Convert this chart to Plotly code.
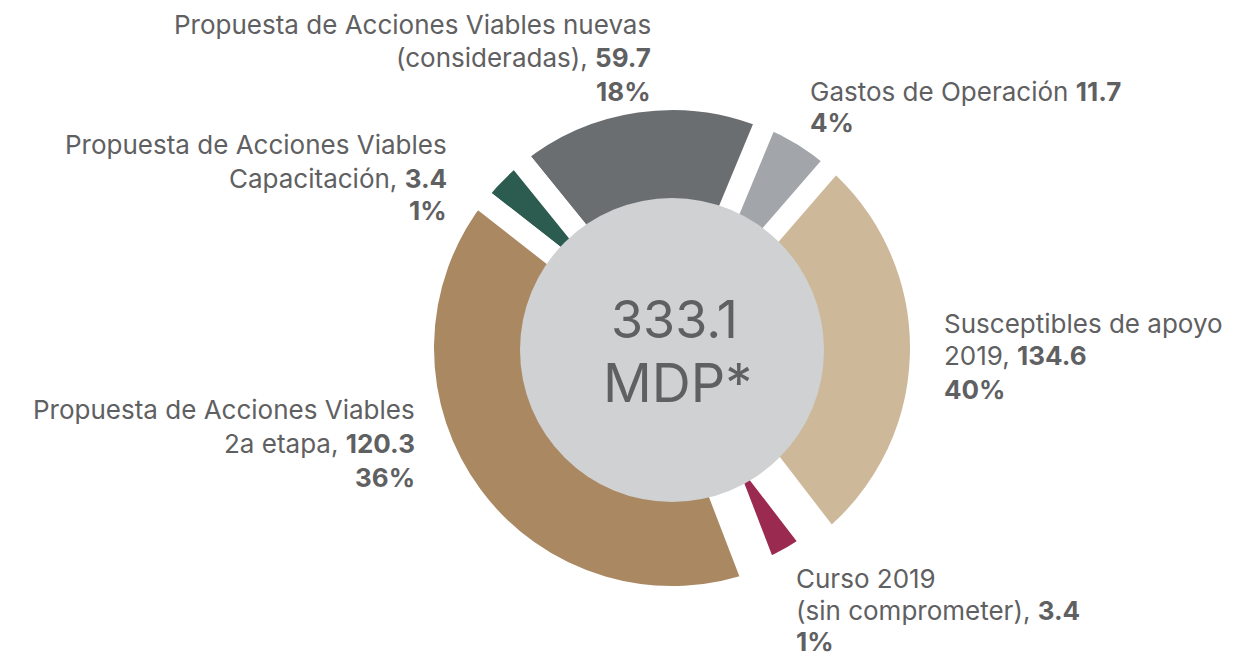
import plotly.graph_objects as go

# slices, counter-clockwise starting at the right-hand (beige) one
names = ["Susceptibles de apoyo 2019", "Gastos de Operación",
         "Propuesta de Acciones Viables nuevas (consideradas)", "Propuesta de Acciones Viables Capacitación",
         "Propuesta de Acciones Viables 2a etapa", "Curso 2019 (sin comprometer)"]
amounts = [134.6, 11.7, 59.7, 3.4, 120.3, 3.4]
percents = [40, 4, 18, 1, 36, 1]
# share of the circle each slice takes as drawn in the picture (%)
drawn_share = [28.2, 5.1, 17.1, 3.6, 41.4, 4.6]
total = "333.1"

colors = {
    'beige': '#cdb99a', 'red': '#9b2a50', 'brown': '#a98862', 'green': '#2c5c4f',
    'dgray': '#6b6e70', 'lgray': '#a2a5a9', 'center': '#d0d1d3', 'text': '#5f6062'
}
slice_colors = [colors['beige'], colors['lgray'], colors['dgray'], colors['green'], colors['brown'], colors['red']]
gap_widths = [22, 20, 22, 22, 22, 38]

# page body has an 8px margin, so the figure is a bit smaller and positions are shifted
OFF = 8
W, H = 1249, 648
cx, cy, R = 672, 348, 249   # pie centre / radius in page px

def px(x):
    return (x - OFF) / W

def py(y):
    return (H - (y - OFF)) / H

fig = go.Figure()
# counterclockwise: first slice covers [rotation, rotation + share] clockwise from 12 o'clock
fig.add_trace(go.Pie(
    labels=names, values=drawn_share, sort=False, direction='counterclockwise', rotation=40.9,
    hole=0.5, textinfo='none', hoverinfo='label',
    marker=dict(colors=slice_colors, line=dict(color='white', width=gap_widths)),
    domain=dict(x=[px(cx - R), px(cx + R)], y=[py(cy + R), py(cy - R)]),
    showlegend=False,
))

# grey centre disc
fig.add_shape(type='circle', xref='paper', yref='paper', xsizemode='pixel', ysizemode='pixel',
              xanchor=px(672), yanchor=py(350), x0=-152, x1=152, y0=-152, y1=152,
              fillcolor=colors['center'], line=dict(width=0), layer='above')

font_family = "Inter"

def line(text, x, y, anchor, size=26):
    fig.add_annotation(x=px(x), y=py(y), xref='paper', yref='paper', text=text,
                       showarrow=False, xanchor=anchor, yanchor='middle',
                       font=dict(family=font_family, size=size, color=colors['text']))

b = lambda s: f"<b>{s}</b>"

# labels (x, y of each visual line centre)
line("Propuesta de Acciones Viables nuevas", 653, 24, 'right')
line(f"(consideradas), {b(amounts[2])}", 653, 57, 'right')
line(b(f"{percents[2]}%"), 653, 91, 'right')

line(f"Gastos de Operación {b(amounts[1])}", 808, 91, 'left')
line(b(f"{percents[1]}%"), 808, 122, 'left')

line("Propuesta de Acciones Viables", 449, 144, 'right')
line(f"Capacitación, {b(amounts[3])}", 449, 178, 'right')
line(b(f"{percents[3]}%"), 449, 210, 'right')

line("Susceptibles de apoyo", 942, 323, 'left')
line(f"2019, {b(amounts[0])}", 942, 356, 'left')
line(b(f"{percents[0]}%"), 942, 389, 'left')

line("Propuesta de Acciones Viables", 417, 409, 'right')
line(f"2a etapa, {b(amounts[4])}", 417, 443, 'right')
line(b(f"{percents[4]}%"), 417, 477, 'right')

line("Curso 2019", 794, 578, 'left')
line(f"(sin comprometer), {b(amounts[5])}", 794, 610, 'left')
line(b(f"{percents[5]}%"), 794, 641, 'left')

# centre total
line(total, 674, 319, 'center', size=52)
line("MDP*", 677, 382, 'center', size=54)

fig.update_layout(
    width=W, height=H, margin=dict(l=0, r=0, t=0, b=0),
    paper_bgcolor='white', plot_bgcolor='white',
)

fig.write_html("out.html")
